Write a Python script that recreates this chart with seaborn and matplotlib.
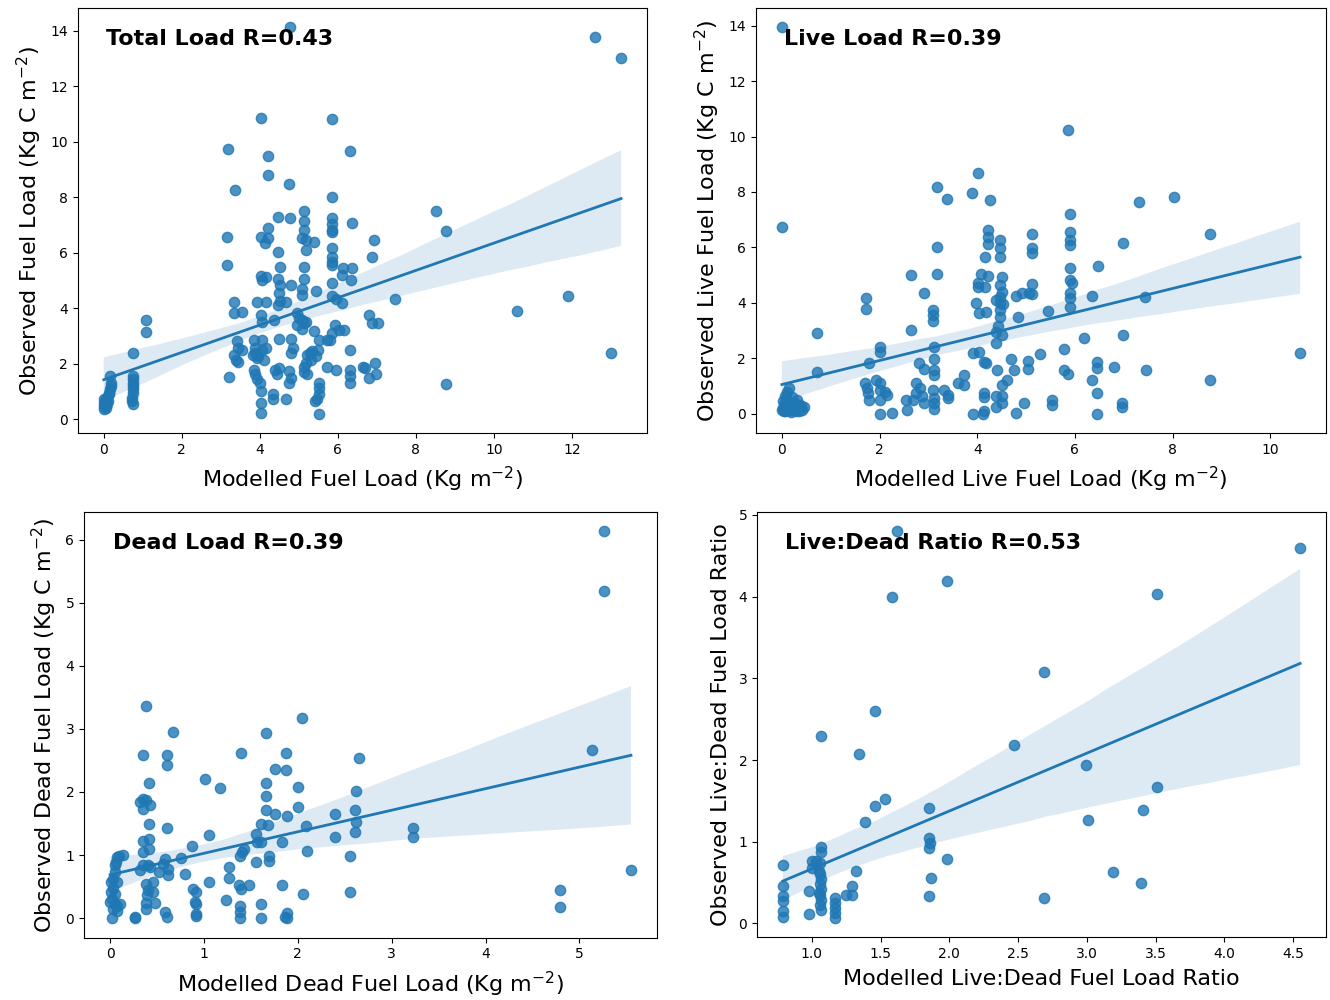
import numpy as np
import matplotlib
matplotlib.use('Agg')
import matplotlib.pyplot as plt
import seaborn as sns

# points, (modelled, observed)
total_pts = [(0.0,0.36),(0.0,0.48),(0.0,0.6),(0.05,0.72),(0.09,0.78),(0.14,0.9),(0.17,1.08),(0.19,1.2),(0.19,1.32),
    (0.17,1.56),(0.14,0.96),(0.08,0.54),(0.0,0.72),(0.11,0.66),(0.05,0.42),
    (0.75,1.56),(0.75,1.44),(0.74,1.32),(0.75,1.2),(0.76,1.08),(0.75,0.96),(0.73,0.78),(0.73,0.66),(0.74,0.54),(0.75,2.39),
    (1.08,3.59),(1.08,3.14),
    (3.18,9.75),(3.37,8.26),(3.17,6.58),(3.17,5.56),(3.35,4.21),(3.35,3.81),(3.55,3.87),(3.2,1.53),(3.41,2.81),(3.44,2.57),
    (3.55,2.51),(3.35,2.30),(3.39,2.15),(3.44,2.06),(3.85,2.87),(3.87,2.57),(3.87,2.39),(3.96,2.27),(4.05,2.87),(4.05,2.51),
    (4.1,2.15),(4.15,2.57),(3.92,2.21),(3.82,2.33),(4.02,10.87),(4.22,9.48),(4.22,8.80),(4.76,8.47),(4.78,14.12),(4.46,7.28),
    (4.78,7.24),(5.13,7.51),(5.13,7.16),(5.13,6.82),(5.09,6.52),(5.18,6.46),(5.39,6.40),(4.22,6.88),(4.02,6.58),(4.13,6.34),
    (4.22,6.52),(4.46,6.04),(5.19,6.08),(4.52,5.50),(5.13,5.47),(4.02,5.17),(4.05,5.03),(4.15,5.12),(4.46,5.05),(4.52,4.85),
    (4.81,4.82),(5.13,5.05),(5.09,4.69),(5.09,4.49),(4.5,4.55),(5.45,4.61),(3.94,4.21),(4.15,4.21),(4.46,4.13),(4.52,4.25),
    (4.66,4.21),(4.02,3.77),(4.05,3.49),(4.36,3.59),(4.95,3.83),(5.0,3.65),(5.09,3.59),(5.13,3.47),(4.95,3.41),(5.18,3.49),
    (5.09,3.25),(4.5,2.9),(4.81,2.9),(4.85,2.57),(4.81,2.39),(5.39,3.17),(5.51,2.87),(5.73,2.85),(5.2,2.3),(5.28,2.39),
    (5.35,2.45),(5.5,2.51),(5.45,2.27),(5.31,2.15),(5.18,2.03),(4.4,1.77),(4.48,1.85),(4.43,1.62),(4.76,1.74),(4.81,1.5),
    (4.76,1.32),(5.12,1.89),(5.14,1.7),(5.2,1.62),(3.84,1.77),(3.87,1.62),(3.94,1.44),(4.0,1.32),(4.02,1.02),(4.02,0.6),
    (4.02,0.24),(4.35,0.9),(4.35,0.72),(4.66,0.72),(5.51,1.32),(5.51,1.14),(5.51,0.9),(5.47,0.72),(5.42,0.66),(5.51,0.2),
    (5.86,8.02),(5.84,10.83),(6.31,9.67),(5.86,7.24),(5.86,7.04),(5.86,6.82),(5.86,6.74),(6.37,7.06),(5.86,6.16),(5.86,5.86),
    (5.86,5.68),(5.86,5.56),(6.13,5.44),(6.11,5.2),(6.36,5.44),(6.33,5.03),(5.86,4.91),(5.86,4.43),(5.94,4.33),(6.1,4.19),
    (6.93,6.46),(6.88,5.83),(5.92,3.41),(6.03,3.23),(6.15,3.23),(5.84,3.11),(5.8,2.87),(6.79,3.77),(6.88,3.47),(7.02,3.47),
    (6.3,2.49),(5.73,1.89),(5.94,1.79),(6.3,1.79),(6.3,1.56),(6.3,1.32),(6.64,1.89),(6.69,1.85),(6.79,1.5),(6.96,2.03),
    (6.98,1.62),(7.47,4.33),(8.51,7.51),(8.77,6.77),(8.77,1.26),(10.58,3.89),(11.9,4.43),(12.99,2.39),(12.59,13.78),(13.26,13.02)]

live_pts = [(0,13.94),(0,6.74),(0,0.14),(0.04,0.26),(0.07,0.38),(0.11,0.5),(0.07,0.62),(0.11,0.8),(0.15,0.92),(0.3,0.5),
    (0.33,0.2),(0.37,0.32),(0.41,0.14),(0.45,0.24),(0.19,0.14),(0.26,0.38),(0.06,0.08),(0.22,0.26),
    (0.02,0.2),(0.05,0.1),(0.09,0.22),(0.12,0.12),(0.14,0.3),(0.18,0.05),(0.24,0.16),(0.28,0.1),(0.35,0.08),(0.4,0.28),
    (0.03,0.45),(0.1,0.35),(0.16,0.4),(0.2,0.6),
    (0.71,2.9),(0.71,1.49),(1.73,4.19),(1.73,3.77),(1.79,1.82),(1.71,1.1),(1.75,0.92),(1.77,0.74),(1.79,0.5),(1.92,1.22),
    (2.01,1.1),(2.01,0.86),(2.12,0.8),(2.16,0.68),(2.01,2.42),(2.01,2.24),(2.01,0.5),(2.01,0.0),(2.25,0.02),(2.55,0.5),
    (2.57,0.14),(2.64,3.02),(2.64,5.0),(2.9,4.37),(3.17,6.02),(3.17,5.04),(3.17,8.18),(3.38,7.73),(3.1,3.74),(3.1,3.56),
    (3.1,3.36),(3.11,2.42),(3.12,1.97),(3.12,1.58),(3.12,1.4),(2.81,1.82),(2.9,1.61),(2.74,1.1),(2.83,0.92),(2.75,0.74),
    (2.86,0.62),(2.68,0.5),(2.9,0.38),(3.09,0.86),(3.11,0.56),(3.12,0.38),(3.12,0.17),(3.31,0.86),(3.41,0.68),(3.41,0.56),
    (3.61,1.1),(3.72,1.4),(3.72,1.04),(3.89,7.98),(4.02,8.7),(4.26,7.7),(4.23,6.62),(4.23,6.38),(4.23,6.14),(4.46,6.26),
    (4.46,5.96),(4.46,5.64),(4.15,5.66),(4.08,5.04),(4.23,4.97),(4.02,4.73),(4.02,4.56),(4.15,4.56),(4.5,4.94),(4.46,4.64),
    (4.5,4.4),(4.46,4.22),(4.39,4.1),(4.46,3.98),(4.52,3.96),(4.46,3.74),(4.46,3.5),(4.43,3.17),(4.39,2.96),(4.5,2.84),
    (4.39,2.54),(3.97,3.98),(4.03,3.62),(4.17,3.68),(4.84,3.48),(4.8,4.25),(4.91,4.37),(5.06,4.34),(5.13,4.31),(5.12,4.68),
    (5.12,6.5),(5.12,5.96),(5.12,5.78),(5.9,7.2),(5.9,6.56),(5.9,6.26),(5.9,6.08),(5.9,5.24),(5.9,4.82),(5.93,4.7),
    (5.9,4.34),(5.9,4.16),(5.9,3.86),(5.86,10.24),(5.45,3.72),(6.35,4.26),(6.47,5.34),(6.98,6.17),(7.31,7.62),(8.02,7.82),
    (8.76,6.48),(7.44,4.22),(6.98,2.84),(6.18,2.72),(3.91,2.18),(4.04,2.24),(4.13,1.88),(4.17,1.82),(4.4,1.56),(4.69,1.97),
    (4.76,1.56),(4.61,1.2),(4.5,1.04),(5.04,1.91),(5.04,1.61),(5.28,2.16),(4.13,0.74),(4.13,0.59),(4.39,0.62),(4.5,0.62),
    (4.39,0.24),(4.11,0.0),(3.91,0.0),(4.13,0.08),(4.5,0.38),(4.8,0.02),(4.95,0.38),(5.77,2.33),(5.77,1.58),(5.86,1.44),
    (5.54,0.5),(5.54,0.32),(6.34,1.22),(6.46,1.88),(6.46,1.64),(6.46,0.74),(6.46,0.0),(6.81,1.68),(6.96,0.38),(6.96,0.24),
    (7.46,1.56),(8.76,1.22),(10.61,2.18)]

dead_pts = [(5.26,6.13),(5.26,5.18),(5.13,2.67),(5.55,0.77),(4.79,0.45),(4.79,0.17),(0.38,3.37),(0.67,2.95),(0.35,2.59),
    (0.61,2.58),(0.61,2.43),(0.41,2.14),(0.32,1.84),(0.35,1.89),(0.38,1.87),(0.42,1.8),(0.35,1.73),(0.41,1.5),(0.61,1.43),
    (0.35,1.22),(0.41,1.26),(0.35,1.05),(0.41,1.09),(0.35,0.85),(0.4,0.85),(0.32,0.76),(0.42,0.81),(0.46,0.57),(0.38,0.54),
    (0.4,0.44),(0.46,0.42),(0.39,0.36),(0.38,0.24),(0.48,0.24),(0.38,0.14),
    (0.01,0.57),(0.03,0.62),(0.05,0.73),(0.05,0.84),(0.07,0.97),(0.06,0.89),(0.01,0.41),(0.02,0.31),(0.05,0.23),(0.03,0.15),
    (0.02,0.0),(0.07,0.2),(0.11,0.23),(0.09,0.99),(0.14,1.0),(0.03,0.48),(0.07,0.12),(0.0,0.25),(0.07,0.57),(0.05,0.39),
    (0.26,0.02),(0.26,0.0),(0.52,0.73),(0.59,0.94),(0.62,0.78),(0.62,0.68),(0.56,0.86),(0.76,0.95),(0.8,0.7),(0.59,0.1),
    (0.61,0.02),(0.87,1.15),(1.01,2.21),(1.17,2.06),(1.05,1.32),(1.05,0.58),(0.88,0.47),(0.92,0.41),(0.9,0.25),(0.92,0.23),
    (0.92,0.07),(0.92,0.03),(1.24,0.29),(1.27,0.81),(1.27,0.63),(1.37,0.52),(1.39,0.47),(1.48,0.52),(1.38,0.2),(1.38,0.1),
    (1.38,0.0),(1.4,2.62),(1.38,0.99),(1.41,1.05),(1.43,1.1),(1.55,1.34),(1.55,0.89),(1.56,1.21),(1.61,1.5),(1.61,1.21),
    (1.68,1.47),(1.69,0.99),(1.69,0.9),(1.66,2.93),(1.66,2.14),(1.66,1.93),(1.66,1.71),(1.76,2.37),(1.87,2.61),(1.87,2.35),
    (1.76,1.65),(1.89,1.62),(1.83,1.21),(1.83,0.52),(1.61,0.23),(1.61,0.0),(1.89,0.08),(1.89,0.0),(1.86,0.02),(2.0,2.08),
    (2.0,1.76),(2.05,3.17),(2.09,1.46),(2.1,1.07),(2.06,0.39),(2.4,1.65),(2.4,1.29),(2.56,0.98),(2.56,0.41),(2.61,1.71),
    (2.61,1.36),(2.62,2.01),(2.62,1.52),(2.65,2.54),(3.23,1.43),(3.23,1.28)]

ratio_pts = [(1.62,4.80),(1.98,4.19),(1.58,4.0),(3.51,4.03),(4.55,4.59),(2.69,3.08),(1.46,2.6),(1.07,2.3),(1.34,2.07),
    (2.47,2.19),(2.99,1.94),(3.51,1.67),(1.53,1.52),(1.46,1.44),(1.39,1.24),(1.85,1.41),(1.85,1.05),(1.86,0.99),(1.85,0.92),
    (1.98,0.79),(1.87,0.55),(1.85,0.33),(3.01,1.27),(3.41,1.39),(3.19,0.63),(3.39,0.5),(2.69,0.31),(0.79,0.71),(0.79,0.46),
    (0.79,0.33),(0.79,0.27),(0.79,0.15),(0.79,0.08),(0.98,0.4),(0.98,0.11),(1.0,0.77),(1.03,0.76),(1.0,0.68),(1.07,0.93),
    (1.07,0.88),(1.06,0.74),(1.05,0.64),(1.06,0.6),(1.07,0.54),(1.06,0.48),(1.07,0.42),(1.05,0.37),(1.06,0.35),(1.07,0.29),
    (1.06,0.23),(1.07,0.17),(1.17,0.31),(1.17,0.25),(1.17,0.19),(1.17,0.13),(1.17,0.07),(1.25,0.35),(1.29,0.46),(1.29,0.35),
    (1.32,0.64)]

titles = ['Total Load R=0.43', 'Live Load R=0.39', 'Dead Load R=0.39', 'Live:Dead Ratio R=0.53']
xlabels = [r'Modelled Fuel Load (Kg m$^{-2}$)', r'Modelled Live Fuel Load (Kg m$^{-2}$)',
           r'Modelled Dead Fuel Load (Kg m$^{-2}$)', 'Modelled Live:Dead Fuel Load Ratio']
ylabels = [r'Observed Fuel Load (Kg C m$^{-2}$)', r'Observed Live Fuel Load (Kg C m$^{-2}$)',
           r'Observed Dead Fuel Load (Kg C m$^{-2}$)', 'Observed Live:Dead Fuel Load Ratio']

fig = plt.figure(figsize=(13.3, 10), dpi=100)
boxes = [[0.0586, 0.567, 0.4278, 0.425],
         [0.5684, 0.567, 0.4286, 0.425],
         [0.0632, 0.0625, 0.4308, 0.4255],
         [0.5692, 0.063, 0.4278, 0.425]]

for pts, box, t, xl, yl in zip([total_pts, live_pts, dead_pts, ratio_pts], boxes, titles, xlabels, ylabels):
    arr = np.array(pts)
    ax = fig.add_axes(box)
    sns.regplot(x=arr[:, 0], y=arr[:, 1], ax=ax, seed=1,
                scatter_kws={'s': 55}, line_kws={'lw': 2})
    ax.text(0.05, 0.927, t, transform=ax.transAxes, fontsize=16,
            fontweight='bold', va='center', ha='left')
    ax.set_xlabel(xl, fontsize=16, labelpad=6)
    ax.set_ylabel(yl, fontsize=16, labelpad=5)
    ax.tick_params(labelsize=10)

fig.savefig('out.png', dpi=100)
